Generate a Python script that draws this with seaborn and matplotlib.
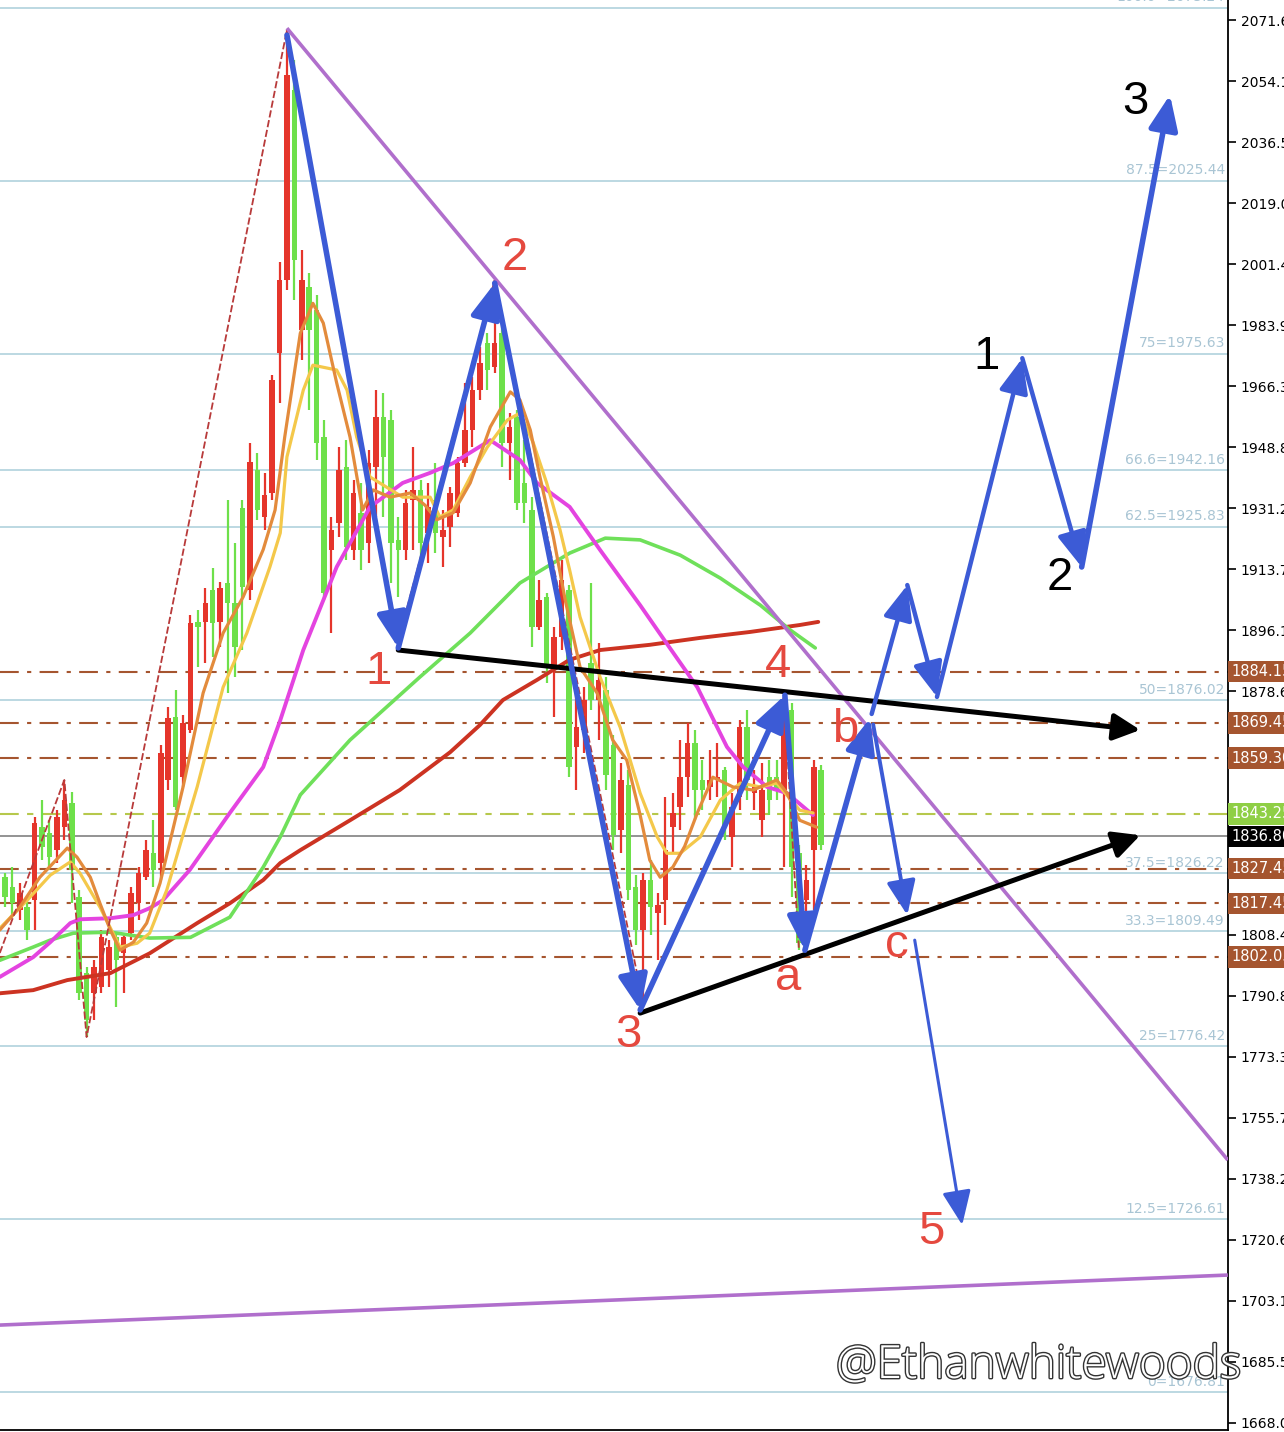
import numpy as np
import pandas as pd
import matplotlib
matplotlib.use("Agg")
import matplotlib.pyplot as plt
import matplotlib.patheffects as pe
from matplotlib import transforms
import seaborn as sns

# ---------------- data ----------------
opens = [1825.0,1822.2,1815.5,1816.4,1818.4,1839.4,1837.7,1832.8,1839.4,1846.3,
         1819.3,1797.4,1791.6,1793.4,1798.3,1807.7,1803.1,1808.9,1817.5,1825.0,
         1831.9,1829.1,1853.0,1871.1,1853.8,1867.4,1898.5,1898.5,1907.7,1898.5,
         1909.7,1903.9,1931.3,1907.7,1942.2,1928.7,1935.6,1975.8,1996.9,2051.6,
         1982.5,1994.9,1988.2,1951.7,1919.3,1927.0,1943.2,1919.3,1929.9,1921.2,
         1943.2,1957.5,1956.6,1922.1,1919.3,1933.6,1936.5,1924.1,1933.6,1923.0,
         1925.9,1929.9,1944.2,1953.7,1965.2,1978.7,1971.9,1981.6,1950.0,1957.5,
         1938.5,1930.7,1897.0,1905.7,1885.5,1894.1,1907.7,1862.5,1867.4,1886.7,
         1876.0,1878.9,1863.0,1838.6,1851.5,1822.2,1809.8,1824.2,1814.7,1818.4,
         1839.4,1845.2,1853.8,1863.6,1853.0,1851.0,1853.0,1855.9,1836.6,1848.1,
         1868.2,1849.2,1841.4,1853.8,1853.8,1850.1,1873.1,1831.9,1818.4,1832.8,
         1855.9]
highs = [1826.2,1827.9,1823.3,1818.4,1842.3,1847.2,1841.4,1844.3,1853.0,1849.5,
         1821.3,1799.1,1801.1,1809.8,1806.9,1808.9,1808.9,1822.2,1827.9,1835.7,
         1841.4,1863.0,1874.0,1878.9,1871.7,1900.5,1901.9,1908.3,1914.0,1910.0,
         1933.6,1921.2,1933.6,1950.0,1947.1,1941.3,1969.6,2002.1,2068.9,2060.2,
         2005.5,1998.9,1992.6,1956.6,1928.7,1948.8,1950.8,1939.3,1938.5,1948.0,
         1965.2,1964.4,1959.5,1928.7,1936.5,1948.8,1939.3,1938.5,1944.2,1930.7,
         1937.3,1946.0,1967.3,1969.0,1977.6,1981.6,1996.9,1986.2,1958.6,1959.5,
         1950.8,1934.4,1910.5,1906.8,1897.0,1916.3,1909.1,1878.0,1879.7,1909.7,
         1892.4,1882.6,1865.9,1857.9,1855.9,1825.6,1826.2,1829.9,1820.4,1848.1,
         1849.2,1864.5,1869.4,1867.4,1858.7,1861.6,1863.6,1856.7,1849.2,1870.2,
         1873.1,1855.9,1857.9,1858.7,1858.7,1876.9,1875.1,1834.3,1828.5,1858.7,
         1857.3]
lows = [1816.4,1813.5,1812.6,1806.9,1809.8,1829.9,1827.0,1829.1,1835.7,1817.5,
        1789.7,1779.0,1783.9,1791.6,1793.4,1787.6,1791.6,1806.9,1812.6,1824.2,
        1822.2,1824.2,1850.1,1844.3,1851.0,1866.5,1885.5,1886.7,1888.4,1891.3,
        1878.0,1882.6,1890.4,1904.8,1927.9,1925.0,1933.6,1961.5,1994.0,1991.1,
        1973.8,1959.5,1945.1,1904.8,1895.3,1923.0,1916.3,1916.3,1913.4,1915.4,
        1928.7,1928.7,1909.7,1905.7,1916.3,1919.3,1915.4,1915.4,1918.3,1914.3,
        1920.1,1928.7,1943.2,1948.8,1962.4,1965.2,1970.1,1943.2,1939.3,1930.7,
        1927.0,1891.3,1896.2,1880.9,1871.1,1890.4,1853.8,1850.1,1860.7,1873.1,
        1864.5,1850.1,1832.8,1831.9,1818.4,1805.5,1788.8,1808.4,1801.1,1811.2,
        1831.9,1838.6,1848.1,1841.4,1844.3,1847.2,1848.1,1835.7,1827.9,1844.3,
        1847.2,1844.3,1836.6,1842.9,1847.2,1827.9,1819.3,1804.0,1811.2,1815.5,
        1832.8]
closes = [1819.3,1817.5,1820.4,1809.8,1840.6,1833.7,1830.8,1842.3,1847.2,1827.0,
          1791.6,1783.9,1799.1,1807.7,1804.9,1801.1,1807.7,1820.4,1826.2,1832.8,
          1827.0,1860.7,1870.8,1845.2,1869.4,1898.2,1897.0,1903.9,1898.2,1908.3,
          1903.9,1891.3,1908.6,1944.5,1930.7,1935.0,1968.1,1996.9,2055.9,2002.7,
          1996.9,1982.5,1950.0,1906.8,1925.0,1942.2,1920.1,1935.6,1919.3,1944.2,
          1957.5,1946.0,1921.2,1919.3,1932.7,1936.5,1921.2,1931.6,1924.1,1925.0,
          1935.6,1944.2,1953.7,1965.2,1973.0,1971.0,1978.7,1950.0,1954.6,1932.7,
          1932.7,1897.0,1904.8,1885.5,1894.1,1910.5,1856.7,1868.2,1876.0,1876.0,
          1881.8,1854.4,1837.1,1853.0,1821.3,1809.8,1824.2,1816.4,1817.0,1832.8,
          1843.5,1853.8,1863.6,1850.1,1850.1,1853.0,1853.8,1839.4,1845.2,1868.2,
          1853.0,1851.0,1850.1,1847.2,1850.1,1872.3,1827.9,1806.0,1824.2,1856.7,
          1834.3]

# moving averages (bar index, price)
ma_orange_x = [-0.7,2.0,4.7,8.4,9.7,11.5,12.8,14.2,15.5,17.3,19.1,20.9,24.0,26.7,29.4,32.1,34.8,36.4,37.7,39.8,
               41.5,42.9,44.7,46.5,48.2,49.6,51.9,54.6,56.6,58.2,60.4,62.7,65.4,68.1,69.4,70.8,72.1,73.9,75.5,77.5,
               79.8,81.9,83.8,85.6,86.9,88.3,90.0,91.6,93.3,95.4,98.1,100.8,104.0,105.4,107.1,109.4]
ma_orange_y = [1809.8,1816.4,1825.0,1833.4,1830.8,1825.0,1817.5,1809.8,1804.0,1806.3,1811.8,1823.3,1851.0,1878.0,1895.3,
               1905.7,1919.3,1930.7,1951.7,1981.6,1990.2,1984.5,1967.3,1951.7,1930.7,1936.5,1934.4,1935.6,1932.1,1927.9,
               1929.9,1938.5,1954.6,1964.7,1962.4,1953.7,1940.2,1923.0,1904.8,1885.5,1878.0,1864.5,1858.7,1842.9,1829.9,
               1825.0,1827.9,1833.9,1843.5,1853.8,1851.0,1850.1,1853.0,1849.2,1841.4,1839.4]
ma_yellow_x = [-0.7,3.0,6.1,8.8,10.1,12.8,15.5,17.8,19.5,21.8,25.9,29.4,32.6,35.7,37.1,38.0,40.2,41.5,44.7,46.1,
               47.4,49.2,50.5,53.6,57.3,58.6,60.4,62.7,65.0,67.7,69.4,71.2,73.0,74.8,76.1,77.5,80.2,82.9,85.6,87.9,
               89.2,91.0,93.7,96.4,99.1,101.8,104.0,107.1,108.9]
ma_yellow_y = [1810.3,1818.4,1825.6,1829.4,1826.2,1816.4,1804.9,1806.0,1808.9,1821.3,1851.0,1879.7,1895.3,1914.3,1924.1,
               1946.0,1965.2,1972.4,1971.0,1965.2,1951.7,1940.2,1938.5,1934.4,1934.4,1928.7,1930.7,1940.2,1948.8,1956.6,
               1958.6,1950.0,1938.5,1925.0,1913.4,1899.9,1882.6,1868.2,1849.2,1836.6,1831.9,1831.9,1836.6,1847.2,1852.1,
               1851.0,1852.1,1844.3,1843.5]
ma_magenta_x = [-0.7,3.8,6.1,8.8,10.1,14.2,17.3,19.5,21.3,24.9,30.3,34.8,37.1,40.2,44.7,49.2,53.6,57.3,60.4,65.4,
                69.4,71.7,76.1,80.2,85.6,89.6,93.3,97.3,99.5,102.7,105.4,108.9]
ma_magenta_y = [1796.3,1802.0,1806.3,1811.8,1812.9,1813.2,1814.1,1816.1,1818.4,1827.1,1843.5,1856.7,1870.2,1890.4,1914.3,
                1931.6,1938.5,1941.4,1944.2,1950.8,1945.1,1938.5,1931.6,1919.2,1903.3,1891.0,1879.7,1862.5,1856.7,1851.0,
                1849.2,1842.9]
ma_green_x = [-0.7,3.8,6.1,9.2,14.2,19.5,25.0,30.3,34.8,37.1,39.8,46.5,53.2,55.9,62.7,69.4,76.1,80.9,85.6,91.0,
              96.4,101.8,105.8,109.2]
ma_green_y = [1801.1,1804.9,1806.9,1808.9,1809.2,1807.5,1807.7,1813.5,1827.9,1836.6,1848.7,1864.5,1877.4,1882.6,1895.3,
              1909.7,1918.3,1922.6,1922.1,1917.7,1911.1,1903.3,1896.2,1891.0]
ma_red_x = [-0.7,3.8,8.4,14.2,19.5,25.9,30.3,34.8,37.1,39.8,46.5,53.2,60.0,64.0,67.1,71.7,76.1,80.2,86.9,93.7,
            100.4,107.1,109.6]
ma_red_y = [1791.6,1792.5,1795.4,1797.4,1803.1,1811.8,1817.5,1824.2,1829.1,1832.8,1841.4,1850.1,1861.0,1868.8,1876.0,
            1881.8,1887.6,1890.4,1891.9,1893.9,1895.6,1897.6,1898.5]

zigzag_x = [-0.7, 8, 11, 38, 53, 66, 86, 105, 107]
zigzag_y = [1803.2, 1853.0, 1779.0, 2068.9, 1893.0, 1996.9, 1788.8, 1876.9, 1804.0]

fib_levels = [2075.24, 2025.44, 1975.63, 1942.16, 1925.83, 1876.02, 1826.22, 1809.49, 1776.42, 1726.61, 1676.81]
fib_labels = ["100.0=2075.24", "87.5=2025.44", "75=1975.63", "66.6=1942.16", "62.5=1925.83", "50=1876.02",
              "37.5=1826.22", "33.3=1809.49", "25=1776.42", "12.5=1726.61", "0=1676.81"]

brown_levels = [1884.15, 1869.45, 1859.30, 1827.45, 1817.45, 1802.05]
green_level = 1843.25
price_level = 1836.80

ytick_values = [1668.0 + 17.55 * k for k in range(24)]

# trendlines (bar index, price)
purple_down = [(38.0, 2069.4), (164.8, 1743.6)]
purple_low = [(-0.7, 1696.1), (164.8, 1710.5)]
black_upper = [(53.0, 1890.4), (153.0, 1867.4)]
black_lower = [(85.6, 1785.9), (153.0, 1837.1)]

# wave projection arrows: (start, end, width)
blue_arrows = [((38.0, 2067.4), (53.0, 1891.0), 4.0),
               ((53.0, 1891.0), (66.0, 1996.0), 4.0),
               ((66.0, 1996.0), (85.6, 1786.8), 4.0),
               ((85.6, 1786.8), (105.1, 1877.4), 4.0),
               ((105.1, 1877.4), (107.8, 1804.0), 4.0),
               ((107.8, 1804.0), (116.6, 1870.8), 4.0),
               ((117.0, 1869.0), (121.6, 1814.1), 2.8),
               ((122.6, 1806.9), (129.0, 1724.9), 2.2),
               ((116.8, 1872.0), (121.6, 1909.1), 3.2),
               ((121.6, 1909.1), (125.6, 1876.9), 3.2),
               ((125.6, 1876.9), (137.1, 1974.4), 3.2),
               ((137.1, 1974.4), (145.1, 1914.3), 3.2),
               ((145.1, 1914.3), (157.0, 2050.2), 4.0)]

red_labels = [("1", 50.3, 1884.1), ("2", 68.7, 2003.2), ("3", 84.0, 1779.6), ("4", 104.2, 1886.1),
              ("a", 105.5, 1796.0), ("b", 113.2, 1867.4), ("c", 120.2, 1805.5), ("5", 124.9, 1722.9)]
black_labels = [("1", 132.3, 1974.7), ("2", 142.2, 1911.1), ("3", 152.3, 2048.1)]

# ---------------- style ----------------
sns.set_theme(style="white")
plt.rcParams["font.family"] = ["DejaVu Sans"]

UP = "#e5352b"
DOWN = "#6ee04a"
BLUE = "#3c5bd6"
PURPLE = "#b06fcc"
BROWN = "#a5552f"
FIB = "#bcd8e2"
REDTXT = "#e5493f"

fig = plt.figure(figsize=(12.84, 14.32), dpi=100)
ax = fig.add_axes([0, 2 / 1432, 1228 / 1284, 1430 / 1432])
ax.set_facecolor("white")
ax.set_xlim(-0.67, 164.82)
ax.set_ylim(1665.9, 2077.5)

# fib levels
for lv, lb in zip(fib_levels, fib_labels):
    ax.axhline(lv, color=FIB, lw=1.4, zorder=1)
    ax.text(164.4, lv + 1.0, lb, ha="right", va="bottom", color="#a9c5d4", fontsize=10, zorder=1)

# horizontal levels
for lv in brown_levels:
    ax.axhline(lv, color=BROWN, lw=1.5, dashes=(9, 4, 2, 4), zorder=2)
ax.axhline(green_level, color="#b6c84c", lw=1.5, dashes=(9, 4, 3, 4), zorder=2)
ax.axhline(price_level, color="#8a8a8a", lw=1.3, zorder=2)

# candles
df = pd.DataFrame({"open": opens, "high": highs, "low": lows, "close": closes})
df["idx"] = np.arange(len(df))
cols = [UP if c >= o else DOWN for o, c in zip(df["open"], df["close"])]
ax.vlines(df["idx"], df["low"], df["high"], colors=cols, lw=1.6, zorder=3)
body = np.maximum(np.abs(df["close"] - df["open"]), 0.6)
ax.bar(df["idx"], body, bottom=np.minimum(df["open"], df["close"]), width=0.74, color=cols,
       linewidth=0, zorder=4)

# moving averages
for xs, ys, c, w in [(ma_red_x, ma_red_y, "#cc3322", 2.8),
                     (ma_green_x, ma_green_y, "#6fe05a", 2.6),
                     (ma_magenta_x, ma_magenta_y, "#e444e0", 2.8),
                     (ma_yellow_x, ma_yellow_y, "#f4c84a", 2.3),
                     (ma_orange_x, ma_orange_y, "#e38b3c", 2.3)]:
    sns.lineplot(x=xs, y=ys, ax=ax, color=c, lw=w, zorder=5, legend=False, sort=False)

ax.plot(zigzag_x, zigzag_y, color="#b83a3a", lw=1.3, dashes=(4, 1.5), zorder=5)

# trendlines
for seg in (purple_down, purple_low):
    ax.plot([seg[0][0], seg[1][0]], [seg[0][1], seg[1][1]], color=PURPLE, lw=2.6, zorder=6,
            solid_capstyle="butt")
for seg in (black_upper, black_lower):
    ax.annotate("", xy=seg[1], xytext=seg[0],
                arrowprops=dict(arrowstyle="-|>,head_length=0.9,head_width=0.45", color="black",
                                lw=3.6, shrinkA=0, shrinkB=0, mutation_scale=18), zorder=7)

for st, en, w in blue_arrows:
    ax.annotate("", xy=en, xytext=st,
                arrowprops=dict(arrowstyle="-|>,head_length=1.0,head_width=0.42", color=BLUE,
                                lw=w, shrinkA=0, shrinkB=0, mutation_scale=21), zorder=8)

for t, x, y in red_labels:
    ax.text(x, y, t, color=REDTXT, fontsize=34, ha="center", va="center",
            family=["Liberation Sans", "DejaVu Sans"], zorder=9)
for t, x, y in black_labels:
    ax.text(x, y, t, color="black", fontsize=34, ha="center", va="center",
            family=["Liberation Sans", "DejaVu Sans"], zorder=9)

# axes frame / ticks
for s in ("left", "top"):
    ax.spines[s].set_visible(False)
for s in ("right", "bottom"):
    ax.spines[s].set_visible(True)
    ax.spines[s].set_color("black")
    ax.spines[s].set_linewidth(1.3)
ax.set_xticks([])
ax.yaxis.tick_right()
ax.set_yticks(ytick_values)
ax.set_yticklabels([f"{v:.2f}" for v in ytick_values])
ax.tick_params(axis="y", direction="out", length=6, width=1.2, colors="black", labelsize=10, pad=3,
               right=True, left=False)
ax.grid(False)

# price boxes on the axis
trans = transforms.blended_transform_factory(ax.transAxes, ax.transData)
boxes = [(lv, BROWN) for lv in brown_levels] + [(green_level, "#8fcf45"), (price_level, "black")]
for lv, c in boxes:
    ax.text(1.003, lv, f"{lv:.2f}", transform=trans, ha="left", va="center", color="white",
            fontsize=10.5, clip_on=False, zorder=10,
            bbox=dict(boxstyle="square,pad=0.22", fc=c, ec="none"))

# watermark
fig.text(836 / 1284, 1 - 1366 / 1432, "@Ethanwhitewoods", fontsize=33, color="white",
         ha="left", va="center", family=["Open Sans", "DejaVu Sans"], fontweight="light",
         path_effects=[pe.withStroke(linewidth=2, foreground="#333333")], zorder=20)

fig.savefig("out.png", dpi=100, facecolor="white")
